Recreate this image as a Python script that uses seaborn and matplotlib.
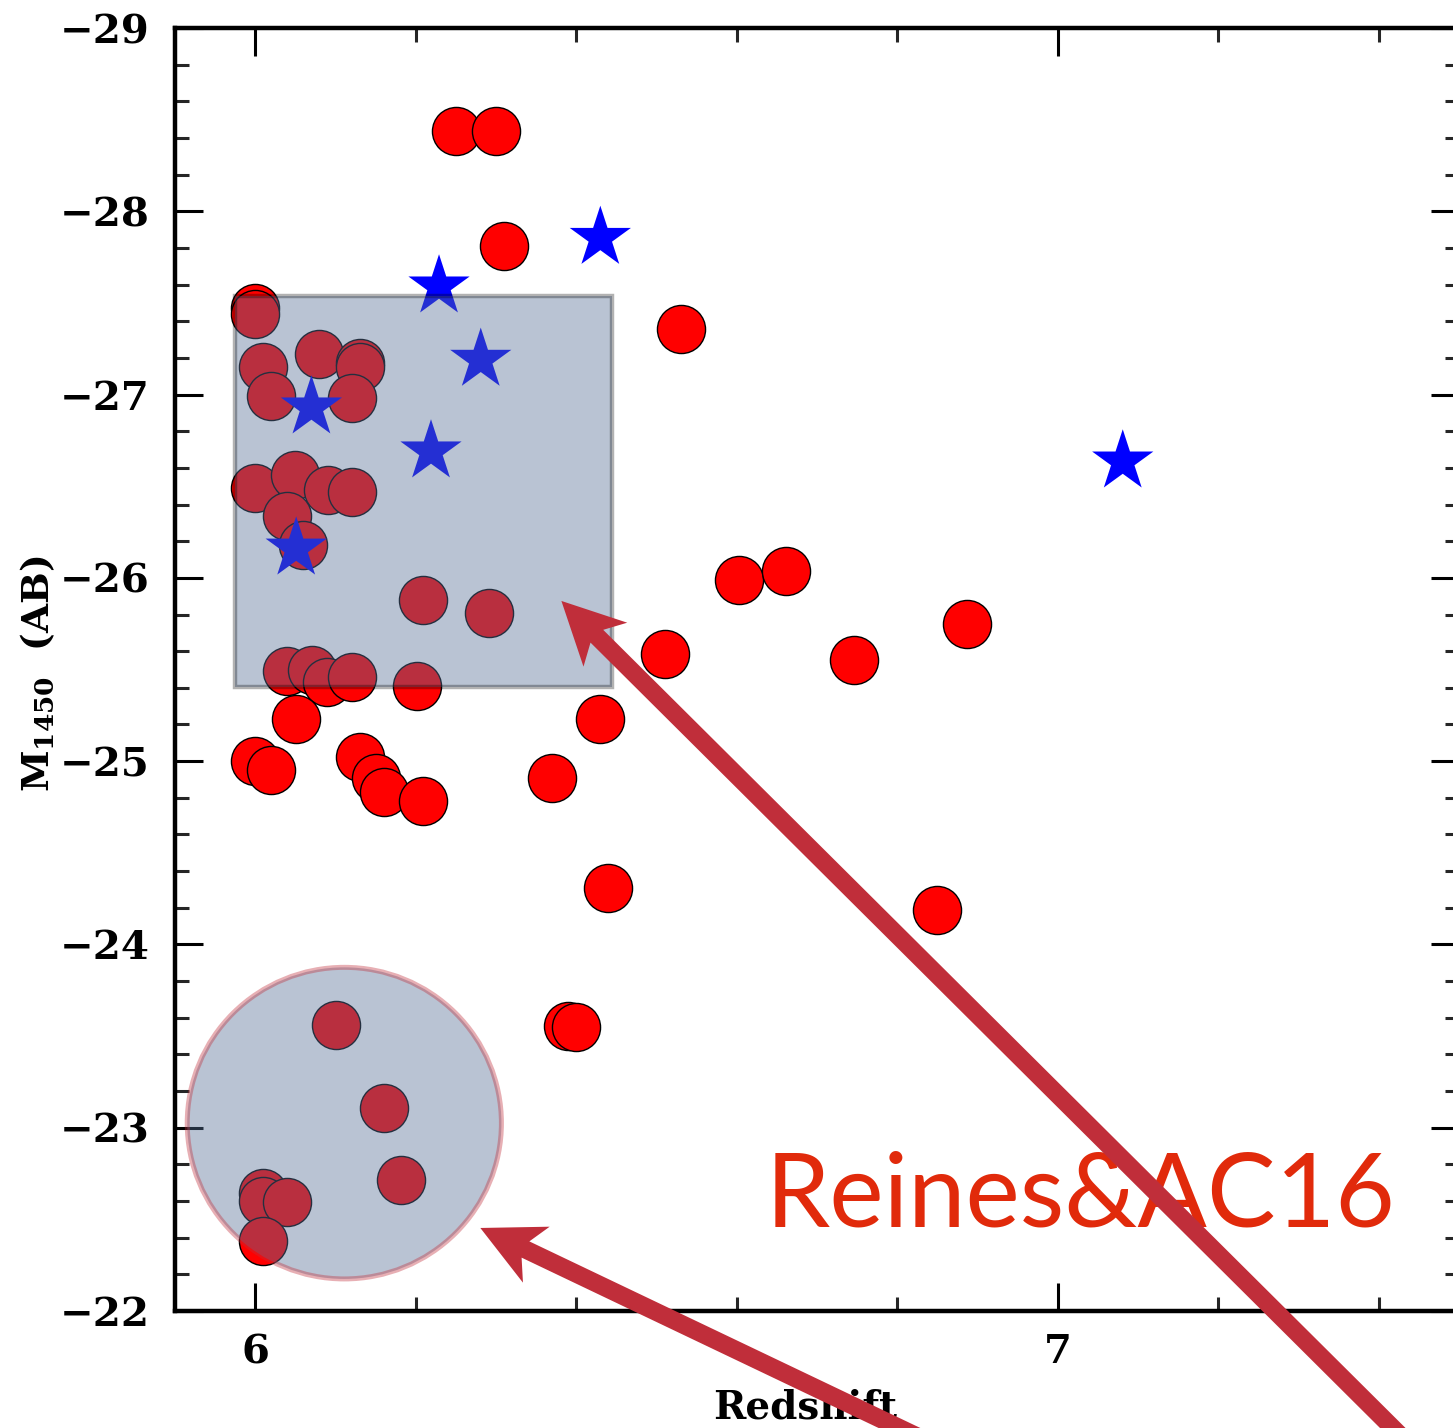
import numpy as np
import pandas as pd
import matplotlib
matplotlib.use("Agg")
import matplotlib.pyplot as plt
import seaborn as sns
from matplotlib.patches import Rectangle, Ellipse, Polygon
from matplotlib.ticker import MultipleLocator, FixedLocator
from matplotlib.transforms import IdentityTransform

# ---------------- data ----------------
quasar_z = [6.25, 6.30, 6.31, 6.53, 6.00, 6.00, 6.01, 6.02, 6.08, 6.13, 6.131,
            6.12, 6.00, 6.05, 6.091, 6.12, 6.04, 6.06, 6.209, 6.291, 6.04, 6.071,
            6.09, 6.12, 6.201, 6.051, 6.00, 6.02, 6.13, 6.15, 6.16, 6.209, 6.37,
            6.43, 6.51, 6.603, 6.661, 6.746, 6.887, 6.44, 6.85, 6.39, 6.40,
            6.10, 6.161, 6.181, 6.01, 6.01, 6.04, 6.01]
quasar_m = [-28.44, -28.44, -27.81, -27.36, -27.47, -27.44, -27.15, -26.99, -27.22,
            -27.17, -27.15, -26.98, -26.49, -26.56, -26.48, -26.47, -26.34, -26.18,
            -25.88, -25.81, -25.49, -25.50, -25.43, -25.46, -25.41, -25.23, -25.00,
            -24.95, -25.02, -24.91, -24.83, -24.78, -24.91, -25.23, -25.585, -25.99,
            -26.04, -25.55, -25.75, -24.31, -24.19, -23.555, -23.55, -23.56, -23.11,
            -22.715, -22.645, -22.60, -22.595, -22.38]

star_z = [6.43, 6.229, 6.281, 6.07, 6.219, 6.051, 7.081]
star_m = [-27.855, -27.59, -27.19, -26.93, -26.69, -26.16, -26.635]

x_major = [6, 7]
label_text = "Reines&AC16"

# annotation shapes (data coordinates)
rect_x, rect_y, rect_w, rect_h = 5.975, -27.54, 0.469, 2.137
ell_cx, ell_cy, ell_w, ell_h = 6.111, -23.025, 0.3915, 1.70
arrow1_tip, arrow1_tail = (6.3815, -25.874), (7.551, -20.78)
arrow2_tip, arrow2_tail = (6.2805, -22.453), (6.928, -21.10)

# ---------------- style ----------------
sns.set_theme(style="ticks")
plt.rcParams["font.family"] = ["DejaVu Serif"]
plt.rcParams["font.weight"] = "bold"
plt.rcParams["mathtext.fontset"] = "dejavuserif"
plt.rcParams["text.color"] = "black"
plt.rcParams["axes.labelcolor"] = "black"

W, H = 1453, 1428
fig = plt.figure(figsize=(W / 100, H / 100), dpi=100)
fig.patch.set_facecolor("white")
ax = fig.add_axes([175 / W, 117 / H, 1284 / W, 1283 / H])
ax.set_facecolor("white")

df_q = pd.DataFrame({"z": quasar_z, "M": quasar_m})
df_s = pd.DataFrame({"z": star_z, "M": star_m})

sns.scatterplot(data=df_q, x="z", y="M", s=1200, color="#ff0000",
                edgecolor="black", linewidth=1.0, ax=ax, zorder=3, legend=False)
sns.scatterplot(data=df_s, x="z", y="M", marker="*", s=2150, color="#0000ff",
                edgecolor="none", linewidth=0, ax=ax, zorder=4, legend=False)

ax.set_xlim(5.9, 7.5)
ax.set_ylim(-22, -29)

ax.xaxis.set_major_locator(FixedLocator(x_major))
ax.xaxis.set_minor_locator(MultipleLocator(0.2))
ax.yaxis.set_major_locator(MultipleLocator(1))
ax.yaxis.set_minor_locator(MultipleLocator(0.2))

ax.tick_params(which="major", direction="in", length=20, width=2.2,
               top=True, right=True, labelsize=29, colors="black")
ax.tick_params(which="minor", direction="in", length=10, width=2.2,
               top=True, right=True)
ax.tick_params(axis="x", which="major", pad=16)
ax.tick_params(axis="y", which="major", pad=18)
for lab in ax.get_xticklabels() + ax.get_yticklabels():
    lab.set_fontweight("bold")
for sp in ax.spines.values():
    sp.set_linewidth(3.2)
    sp.set_color("black")

ax.set_xlabel("Redshift", fontsize=28, fontweight="bold", color="black")
ax.xaxis.set_label_coords(0.4907, -0.0605)
ax.set_ylabel(r"$\mathbf{M_{1450}}$  (AB)", fontsize=27, fontweight="bold", color="black")
ax.yaxis.set_label_coords(-0.092, 0.4965)

# overlays
ax.add_patch(Rectangle((rect_x, rect_y), rect_w, rect_h,
                       facecolor=(88/255, 113/255, 151/255, 0.42),
                       edgecolor=(0, 0, 0, 0.3), linewidth=3.2, zorder=5))
ax.add_patch(Ellipse((ell_cx, ell_cy), ell_w, ell_h,
                     facecolor=(88/255, 113/255, 151/255, 0.42),
                     edgecolor=(192/255, 46/255, 58/255, 0.38), linewidth=3.6, zorder=5))

ax.text(6.636, -22.459, label_text, fontfamily="Lato", fontweight="normal",
        fontsize=74, color="#e12a0b", ha="left", va="baseline", zorder=6)

# arrows built in pixel space
def add_arrow(tip, tail, head_len=62, head_w=62, notch=50, shaft_w=18):
    t = ax.transData.transform(tip)
    e = ax.transData.transform(tail)
    u = (e - t) / np.linalg.norm(e - t)
    n = np.array([-u[1], u[0]])
    pts = [t,
           t + u * head_len + n * head_w / 2,
           t + u * notch + n * shaft_w / 2,
           e + n * shaft_w / 2,
           e - n * shaft_w / 2,
           t + u * notch - n * shaft_w / 2,
           t + u * head_len - n * head_w / 2]
    poly = Polygon(pts, closed=True, transform=IdentityTransform(),
                   facecolor="#c02e3a", edgecolor="none", zorder=8, clip_on=False)
    fig.add_artist(poly)

add_arrow(arrow1_tip, arrow1_tail)
add_arrow(arrow2_tip, arrow2_tail)

fig.savefig("out.png", dpi=100)
